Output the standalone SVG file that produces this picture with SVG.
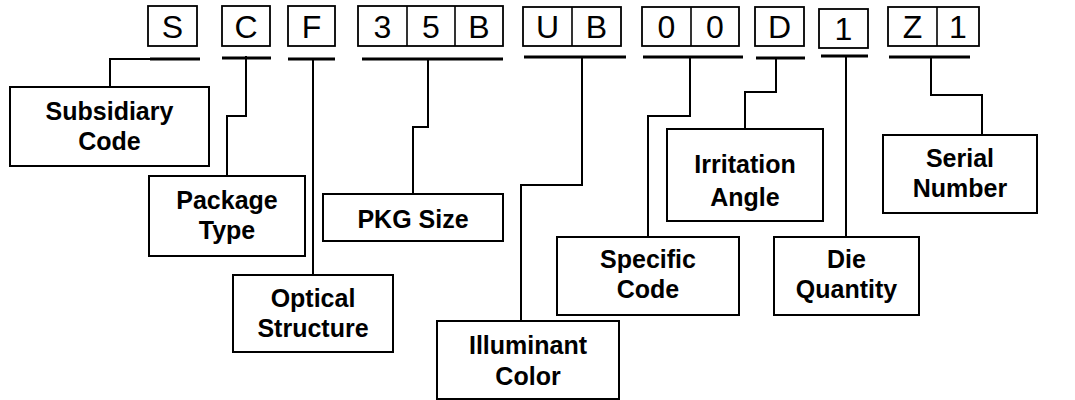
<svg xmlns="http://www.w3.org/2000/svg" width="1075" height="400" viewBox="0 0 1075 400">
<style>
.code rect{fill:#fff;stroke:#000;stroke-width:1.8}
.code line{stroke:#000;stroke-width:1.6}
.ch{font-family:"Liberation Sans",Arial,sans-serif;font-size:32px;fill:#000;text-anchor:middle}
.box{fill:#fff;stroke:#000;stroke-width:2}
.lbl{font-family:"Liberation Sans",Arial,sans-serif;font-size:25px;font-weight:bold;fill:#000;text-anchor:middle}
.ul{stroke:#000;stroke-width:3;fill:none}
.cn{stroke:#000;stroke-width:2;fill:none}
</style>
<rect width="1075" height="400" fill="#fff"/>
<g id="code" class="code">
  <rect x="148" y="6" width="49" height="40"/>
  <rect x="222" y="6" width="48" height="40"/>
  <rect x="288" y="6" width="47" height="40"/>
  <rect x="358" y="6" width="145" height="40"/>
  <line x1="407" y1="6" x2="407" y2="46"/>
  <line x1="455" y1="6" x2="455" y2="46"/>
  <rect x="523" y="7" width="98" height="39"/>
  <line x1="572" y1="7" x2="572" y2="46"/>
  <rect x="642" y="7" width="97" height="39"/>
  <line x1="691" y1="7" x2="691" y2="46"/>
  <rect x="755" y="7" width="49" height="39"/>
  <rect x="819" y="9" width="49" height="39"/>
  <rect x="888" y="7" width="91" height="39"/>
  <line x1="937" y1="7" x2="937" y2="46"/>
  <text class="ch" x="172.5" y="38">S</text>
  <text class="ch" x="246" y="38">C</text>
  <text class="ch" x="311.5" y="38">F</text>
  <text class="ch" x="382.5" y="38">3</text>
  <text class="ch" x="431" y="38">5</text>
  <text class="ch" x="479" y="38">B</text>
  <text class="ch" x="547.5" y="38">U</text>
  <text class="ch" x="596.5" y="38">B</text>
  <text class="ch" x="666.5" y="38">0</text>
  <text class="ch" x="715" y="38">0</text>
  <text class="ch" x="779.5" y="38">D</text>
  <text class="ch" x="843.5" y="40">1</text>
  <text class="ch" x="912.5" y="38">Z</text>
  <text class="ch" x="958" y="38">1</text>
</g>
<g id="connectors">
  <line class="ul" x1="150" y1="59" x2="200" y2="59"/>
  <line class="ul" x1="222" y1="58" x2="271" y2="58"/>
  <line class="ul" x1="288" y1="59" x2="335" y2="59"/>
  <line class="ul" x1="362" y1="59" x2="503" y2="59"/>
  <line class="ul" x1="524" y1="57" x2="626" y2="57"/>
  <line class="ul" x1="643" y1="57" x2="743" y2="57"/>
  <line class="ul" x1="756" y1="58" x2="805" y2="58"/>
  <line class="ul" x1="821" y1="56" x2="868" y2="56"/>
  <line class="ul" x1="889" y1="57" x2="970" y2="57"/>
  <polyline class="cn" points="150,59 110,59 110,87"/>
  <polyline class="cn" points="246,56 246,116 227,116 227,176"/>
  <polyline class="cn" points="313,59 313,275"/>
  <polyline class="cn" points="428,59 428,127 413,127 413,194"/>
  <polyline class="cn" points="582,57 582,185 521,185 521,321"/>
  <polyline class="cn" points="690,57 690,116 648,116 648,237"/>
  <polyline class="cn" points="776,58 776,92 745,92 745,129"/>
  <polyline class="cn" points="846,56 846,237"/>
  <polyline class="cn" points="931,57 931,95 982,95 982,135"/>
</g>
<g id="subsidiary-code">
  <rect class="box" x="10" y="87" width="199" height="79"/>
  <text class="lbl" x="109.5" y="120">Subsidiary</text>
  <text class="lbl" x="109.5" y="150">Code</text>
</g>
<g id="package-type">
  <rect class="box" x="149" y="176" width="156" height="80"/>
  <text class="lbl" x="227" y="209">Package</text>
  <text class="lbl" x="227" y="239">Type</text>
</g>
<g id="optical-structure">
  <rect class="box" x="233" y="275" width="160" height="77"/>
  <text class="lbl" x="313" y="307">Optical</text>
  <text class="lbl" x="313" y="337">Structure</text>
</g>
<g id="pkg-size">
  <rect class="box" x="323" y="194" width="180" height="47"/>
  <text class="lbl" x="413" y="228">PKG Size</text>
</g>
<g id="illuminant-color">
  <rect class="box" x="437" y="321" width="182" height="78"/>
  <text class="lbl" x="528" y="354">Illuminant</text>
  <text class="lbl" x="528" y="385">Color</text>
</g>
<g id="specific-code">
  <rect class="box" x="557" y="237" width="182" height="78"/>
  <text class="lbl" x="648" y="268">Specific</text>
  <text class="lbl" x="648" y="298">Code</text>
</g>
<g id="irritation-angle">
  <rect class="box" x="667" y="129" width="156" height="92"/>
  <text class="lbl" x="745" y="173">Irritation</text>
  <text class="lbl" x="745" y="206">Angle</text>
</g>
<g id="die-quantity">
  <rect class="box" x="774" y="237" width="145" height="78"/>
  <text class="lbl" x="846.5" y="268">Die</text>
  <text class="lbl" x="846.5" y="298">Quantity</text>
</g>
<g id="serial-number">
  <rect class="box" x="883" y="135" width="154" height="78"/>
  <text class="lbl" x="960" y="167">Serial</text>
  <text class="lbl" x="960" y="197">Number</text>
</g>
</svg>
